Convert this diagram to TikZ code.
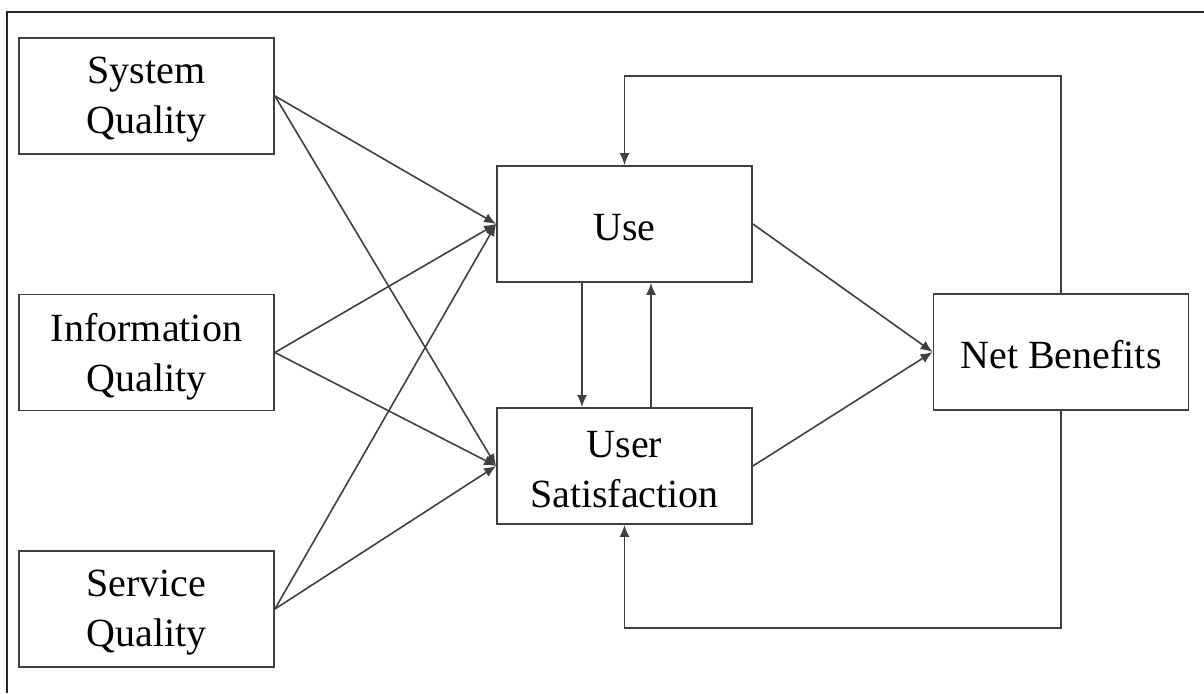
\documentclass[tikz,border=0pt]{standalone}
\usepackage{fontspec}
\setmainfont{Liberation Serif}
\usetikzlibrary{arrows.meta}
\begin{document}
\begin{tikzpicture}[x=1pt,y=-1pt,
  box/.style={draw=black!75,line width=1.8pt,minimum width=255pt,minimum height=116pt,inner sep=0pt},
  txt/.style={align=center,inner sep=0pt,font=\fontsize{40}{50}\selectfont},
  link/.style={draw=black!75,line width=1.6pt},
  arr/.style={link,-{Latex[length=12pt,width=10pt]}}]
\useasboundingbox (0,0) rectangle (1204,693);
\coordinate (fbl) at (7,693);
\coordinate (ftl) at (7,12);
\coordinate (ftr) at (1204,12);
\draw[black!85,line width=1.8pt] (fbl) -- (ftl) -- (ftr);
\node[box] (sq) at (146.5,96) {};
\node[box] (iq) at (146.5,352.5) {};
\node[box] (svq) at (146.5,609) {};
\node[box] (use) at (624.5,224) {};
\node[box] (us) at (624.5,466) {};
\node[box] (nb) at (1061,352) {};
\node[txt] (sqt) at ([yshift=-4pt]sq.center) {System\\Quality};
\node[txt] (iqt) at ([yshift=-4pt]iq.center) {Information\\Quality};
\node[txt] (svqt) at ([yshift=-4pt]svq.center) {Service\\Quality};
\node[txt] (uset) at ([yshift=-4pt]use.center) {Use};
\node[txt] (ust) at ([yshift=-4pt]us.center) {User\\Satisfaction};
\node[txt] (nbt) at ([yshift=-3pt]nb.center) {Net Benefits};
\foreach \s in {sq,iq,svq}{
  \draw[arr] (\s.east) -- (use.west);
  \draw[arr] (\s.east) -- (us.west);
}
\draw[arr] (use.east) -- (nb.west);
\draw[arr] (us.east) -- (nb.west);
\draw[arr] ([xshift=-42.5pt]use.south) -- ([xshift=-42.5pt]us.north);
\draw[arr] ([xshift=26.5pt]us.north) -- ([xshift=26.5pt]use.south);
\draw[arr] (nb.north) -- ++(0,-217) -| (use.north);
\draw[arr] (nb.south) -- ++(0,217) -| (us.south);
\end{tikzpicture}
\end{document}
